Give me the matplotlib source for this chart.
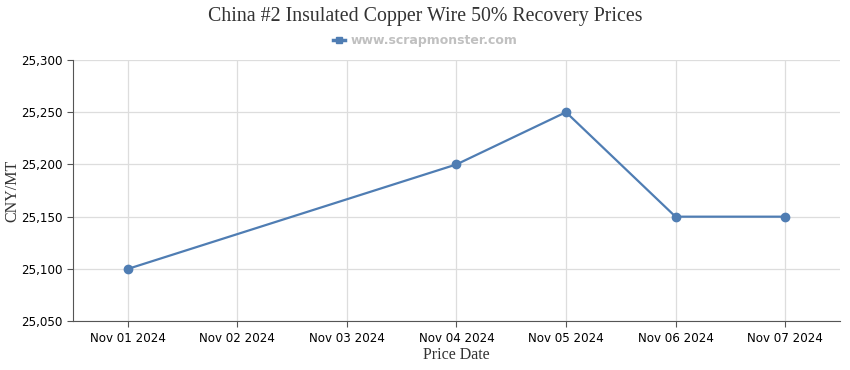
import matplotlib.pyplot as plt
from matplotlib.lines import Line2D

# Chart data
dates = ['Nov 01 2024', 'Nov 02 2024', 'Nov 03 2024', 'Nov 04 2024',
         'Nov 05 2024', 'Nov 06 2024', 'Nov 07 2024']
price_dates = ['Nov 01 2024', 'Nov 04 2024', 'Nov 05 2024', 'Nov 06 2024', 'Nov 07 2024']
prices = [25100, 25200, 25250, 25150, 25150]
y_ticks = [25050, 25100, 25150, 25200, 25250, 25300]

blue = '#4f7db3'

fig = plt.figure(figsize=(8.5, 3.7), dpi=100)
ax = fig.add_axes([0.086, 0.132, 0.902, 0.706])

xs = [dates.index(d) for d in price_dates]
ax.plot(xs, prices, color=blue, linewidth=1.6, marker='o', markersize=6, zorder=3)

ax.set_xlim(-0.5, len(dates) - 0.5)
ax.set_ylim(25050, 25300)
ax.set_xticks(range(len(dates)))
ax.set_xticklabels(dates, fontsize=8.6)
ax.set_yticks(y_ticks)
ax.set_yticklabels([f'{v:,}' for v in y_ticks], fontsize=8.6)

ax.grid(True, color='#dddddd', linewidth=0.9)
ax.set_axisbelow(True)
for s in ['top', 'right']:
    ax.spines[s].set_visible(False)
for s in ['left', 'bottom']:
    ax.spines[s].set_color('#555555')
ax.tick_params(colors='#555555', labelcolor='black', length=4, width=0.8)

ax.set_xlabel('Price Date', family='Liberation Serif', fontsize=11.5, color='#333333', labelpad=2)
ax.set_ylabel('CNY/MT', family='Liberation Serif', fontsize=11.5, color='#333333')
ax.yaxis.set_label_coords(-0.069, 0.5)

fig.text(0.5, 0.955, 'China #2 Insulated Copper Wire 50% Recovery Prices',
         ha='center', va='center', family='Liberation Serif', fontsize=14.3, color='#333333')

handle = Line2D([], [], color=blue, linewidth=2.5, marker='s', markersize=4)
fig.legend([handle], ['www.scrapmonster.com'], loc='center', bbox_to_anchor=(0.5, 0.89),
           frameon=False, handlelength=1.0, handletextpad=0.4,
           prop={'family': 'DejaVu Sans', 'weight': 'bold', 'size': 9},
           labelcolor='#c0c0c0')

fig.savefig('out.png', dpi=100)
